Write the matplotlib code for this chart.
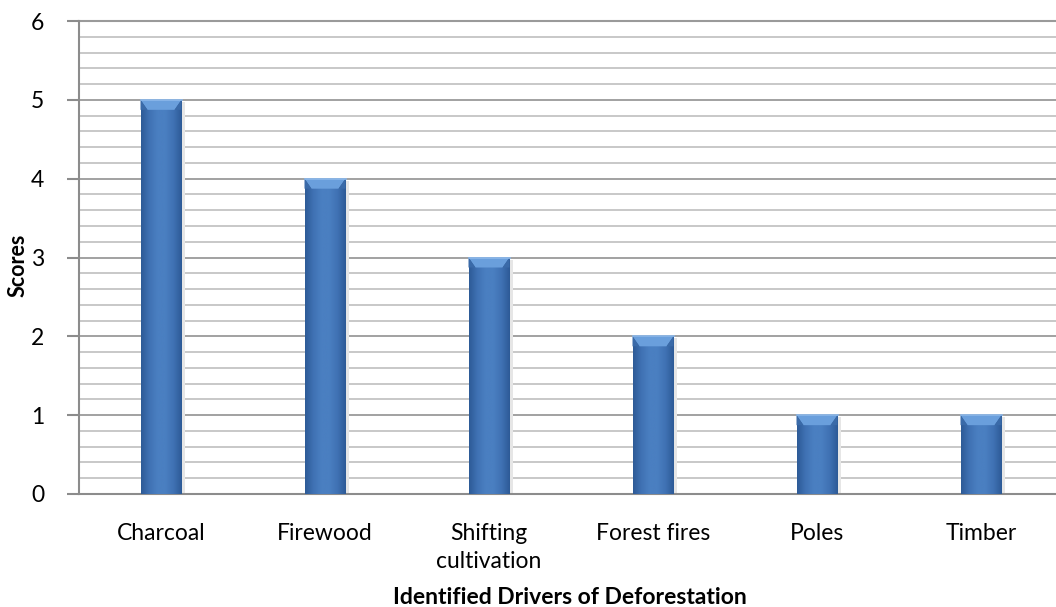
import numpy as np
import matplotlib
matplotlib.use("Agg")
import matplotlib.pyplot as plt
from matplotlib.colors import LinearSegmentedColormap
from matplotlib.patches import Polygon

categories = ["Charcoal", "Firewood", "Shifting\ncultivation", "Forest fires", "Poles", "Timber"]
scores = [5, 4, 3, 2, 1, 1]
y_ticks = [0, 1, 2, 3, 4, 5, 6]

plt.rcParams["font.family"] = ["Lato", "DejaVu Sans"]

fig = plt.figure(figsize=(10.56, 6.07), dpi=100)
W, H = 1056, 607
left, right, top, bottom = 79, 1063, 21, 494
ax = fig.add_axes([left / W, 1 - bottom / H, (right - left) / W, (bottom - top) / H])

x = np.arange(len(categories))
bar_w = 0.25
ax.set_xlim(-0.5, len(categories) - 0.5)
ax.set_ylim(0, 6)

# gridlines: minor every 0.2, major every 1
for v in np.arange(0.2, 6.0, 0.2):
    if abs(v - round(v)) > 1e-6:
        ax.axhline(v, color="#c4c4c4", lw=1.3, zorder=0)
for v in y_ticks[1:]:
    ax.axhline(v, color="#9a9a9a", lw=1.3, zorder=0)

# cylinder-like horizontal shading for the bars
shade = LinearSegmentedColormap.from_list(
    "barshade", ["#2d5a96", "#3f71b3", "#4a7fc1", "#4a7fc1", "#3f71b3", "#2d5a96"])
grad = np.linspace(0, 1, 256).reshape(1, -1)
bars = ax.bar(x, scores, width=bar_w, color="none", edgecolor="none", zorder=3)
px_y = 6 / (bottom - top)
px_x = len(categories) / (right - left)
for xi, s, b in zip(x, scores, bars):
    x0, x1 = xi - bar_w / 2, xi + bar_w / 2
    # soft shadow to the right
    ax.fill_between([x1, x1 + 3 * px_x], 0, s - 2 * px_y, color="#e6e6e6", zorder=2, lw=0)
    im = ax.imshow(grad, cmap=shade, extent=[x0, x1, 0, s], aspect="auto", zorder=3)
    im.set_clip_path(b)
    # bevelled top
    bev_h = 10 * px_y
    bev_w = 7 * px_x
    ax.add_patch(Polygon([[x0, s], [x1, s], [x1 - bev_w, s - bev_h], [x0 + bev_w, s - bev_h]],
                         closed=True, facecolor="#6a9fdc", edgecolor="none", zorder=4))
    ax.add_patch(Polygon([[x0, s], [x0 + bev_w, s - bev_h], [x0, s - bev_h]],
                         closed=True, facecolor="#3a6aa8", edgecolor="none", zorder=4))
    ax.add_patch(Polygon([[x1, s], [x1 - bev_w, s - bev_h], [x1, s - bev_h]],
                         closed=True, facecolor="#3a6aa8", edgecolor="none", zorder=4))
    ax.plot([x0, x1], [s, s], color="#8cb8ea", lw=1.2, zorder=5)
ax.set_xlim(-0.5, len(categories) - 0.5)
ax.set_ylim(0, 6)

for sp in ["top", "right"]:
    ax.spines[sp].set_visible(False)
ax.spines["left"].set_color("#8c8c8c")
ax.spines["left"].set_linewidth(1.5)
ax.spines["bottom"].set_color("#8c8c8c")
ax.spines["bottom"].set_linewidth(1.5)
ax.axhline(6, color="#9a9a9a", lw=1.5, zorder=1, clip_on=False)

ax.set_yticks(y_ticks)
ax.set_yticklabels([str(t) for t in y_ticks], fontsize=16.5)
ax.tick_params(axis="y", length=9, width=1.5, color="#8c8c8c", pad=16)
ax.set_xticks(x)
ax.set_xticklabels(categories, fontsize=16.5, linespacing=1.4)
ax.tick_params(axis="x", length=0, pad=21)

fig.text(18 / W, 1 - 265 / H, "Scores", rotation=90, fontsize=15.5, fontweight="bold",
         ha="center", va="center")
fig.text(570 / W, 1 - 597 / H, "Identified Drivers of Deforestation", fontsize=16.5,
         fontweight="bold", ha="center", va="center")

fig.savefig("out.png", dpi=100)
